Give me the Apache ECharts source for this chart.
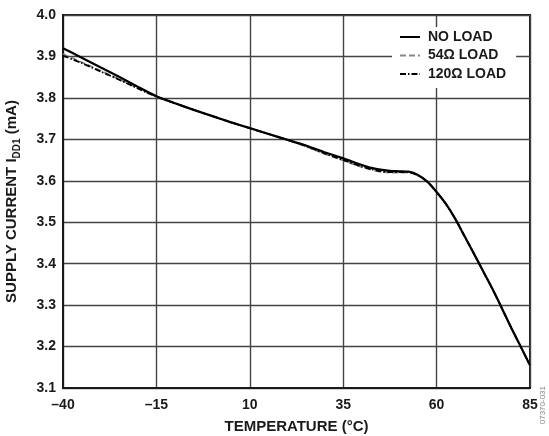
<!DOCTYPE html>
<html>
<head>
<meta charset="utf-8">
<script src="https://cdn.jsdelivr.net/npm/echarts@6/dist/echarts.min.js"></script>
<style>html,body{margin:0;padding:0;background:#fff;}#c{width:549px;height:436px;}</style>
</head>
<body>
<div id="c"></div>
<script>
var temps = [-40,-35,-30,-25,-20,-15,-10,-5,0,5,10,15,20,25,30,35,40,42.5,45,47.5,50,52.5,55,57.5,60,62.5,65,67.5,70,72.5,75,77.5,80,82.5,85];
var noLoad = [3.920,3.897,3.874,3.851,3.827,3.804,3.787,3.771,3.756,3.741,3.727,3.713,3.699,3.685,3.669,3.654,3.638,3.631,3.627,3.624,3.623,3.622,3.614,3.598,3.573,3.544,3.508,3.466,3.424,3.381,3.338,3.292,3.245,3.200,3.155];
var load54 = [3.906,3.886,3.866,3.845,3.824,3.803,3.787,3.771,3.756,3.741,3.727,3.713,3.699,3.683,3.665,3.649,3.633,3.627,3.622,3.620,3.620,3.620,3.613,3.598,3.573,3.544,3.508,3.466,3.424,3.381,3.338,3.292,3.245,3.200,3.155];
var load120 = [3.902,3.884,3.864,3.844,3.823,3.803,3.787,3.771,3.756,3.741,3.727,3.713,3.699,3.684,3.666,3.650,3.634,3.628,3.623,3.621,3.621,3.621,3.613,3.598,3.573,3.544,3.508,3.466,3.424,3.381,3.338,3.292,3.245,3.200,3.155];
var seriesNames = ['NO LOAD', '54Ω LOAD', '120Ω LOAD'];
var xTicks = [-40, -15, 10, 35, 60, 85];

function pairs(vals) { return temps.map(function (t, i) { return [t, vals[i]]; }); }
var FONT = 'Liberation Sans, Arial, Helvetica, sans-serif';
var chart = echarts.init(document.getElementById('c'), null, {renderer: 'canvas'});
chart.setOption({
  animation: false,
  backgroundColor: '#fff',
  textStyle: {fontFamily: FONT},
  grid: {left: 63, right: 19, top: 15, bottom: 48, outerBoundsMode: 'none', containLabel: false,
    show: true, borderColor: '#1a1a1a', borderWidth: 2, backgroundColor: 'transparent'},
  legend: {
    orient: 'vertical', left: 392, top: 27,
    padding: [3, 10, 7, 7], itemGap: 4.5,
    itemWidth: 20, itemHeight: 14,
    backgroundColor: '#fff',
    data: seriesNames,
    itemStyle: {color: 'transparent', borderWidth: 0, opacity: 0},
    textStyle: {fontSize: 14, fontWeight: 'bold', color: '#1a1a1a', fontFamily: FONT, padding: [0, 0, 0, 3]}
  },
  xAxis: {
    type: 'value', min: -40, max: 85, interval: 25,
    name: 'TEMPERATURE (°C)', nameLocation: 'middle', nameGap: 31,
    nameTextStyle: {fontSize: 15, fontWeight: 'bold', color: '#1a1a1a', fontFamily: FONT},
    axisLine: {show: true, onZero: false, lineStyle: {color: '#1a1a1a', width: 2}},
    axisTick: {show: false},
    axisLabel: {fontSize: 14, fontWeight: 'bold', color: '#1a1a1a', margin: 10, fontFamily: FONT,
      customValues: xTicks,
      formatter: function (v) { return v < 0 ? '\u2013' + Math.abs(v) : String(v); }},
    splitLine: {show: true, lineStyle: {color: '#444', width: 1.4}}
  },
  yAxis: {
    type: 'value', min: 3.1, max: 4.0, interval: 0.1,
    name: '{a|SUPPLY CURRENT I}{b|DD1}{a| (mA)}', nameLocation: 'middle', nameGap: 41, nameRotate: 90,
    nameTextStyle: {
      rich: {
        a: {fontSize: 15, fontWeight: 'bold', color: '#1a1a1a', fontFamily: FONT, lineHeight: 20},
        b: {fontSize: 10, fontWeight: 'bold', color: '#1a1a1a', fontFamily: FONT, lineHeight: 20, verticalAlign: 'bottom'}
      }
    },
    axisLine: {show: true, onZero: false, lineStyle: {color: '#1a1a1a', width: 2}},
    axisTick: {show: false},
    axisLabel: {fontSize: 14, fontWeight: 'bold', color: '#1a1a1a', margin: 7, fontFamily: FONT,
      formatter: function (v) { return v.toFixed(1); }},
    splitLine: {show: true, lineStyle: {color: '#444', width: 1.4}}
  },
  series: [
    {name: seriesNames[0], type: 'line', data: pairs(noLoad), showSymbol: false, symbol: 'none', smooth: 0.25, z: 4,
      lineStyle: {color: '#000', width: 2.2, type: 'solid'}, itemStyle: {color: '#000'}},
    {name: seriesNames[1], type: 'line', data: pairs(load54), showSymbol: false, symbol: 'none', smooth: 0.25, z: 3,
      lineStyle: {color: '#888', width: 1.8, type: [6, 3]}, itemStyle: {color: '#888'}},
    {name: seriesNames[2], type: 'line', data: pairs(load120), showSymbol: false, symbol: 'none', smooth: 0.25, z: 3,
      lineStyle: {color: '#000', width: 1.8, type: [6, 2, 1.5, 2]}, itemStyle: {color: '#000'}}
  ],
  graphic: [
    {type: 'text', left: 539, top: 386, rotation: Math.PI / 2, originX: 0, originY: 0,
      style: {text: '07370-031', fontSize: 8, fill: '#888', fontFamily: FONT}}
  ]
});
</script>
</body>
</html>
